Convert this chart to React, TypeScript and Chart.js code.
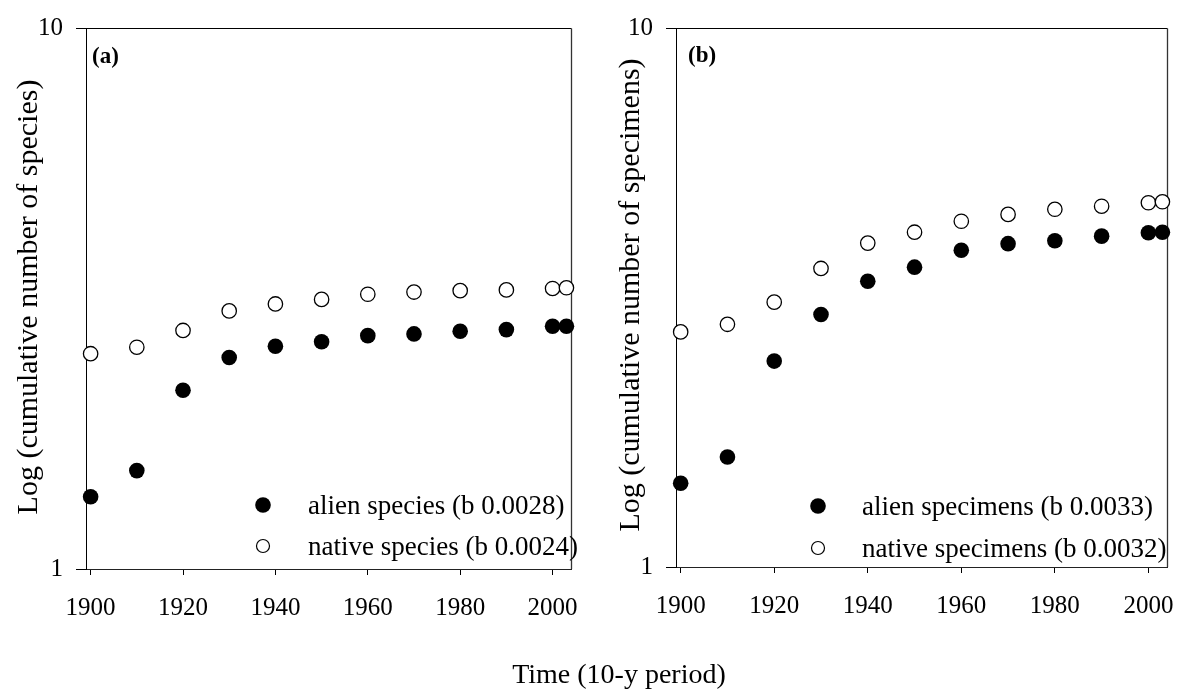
import React, { useEffect, useRef } from "react";
import { Chart, registerables } from "chart.js";

Chart.register(...registerables);

// ---- data ----
const YEARS = [1900, 1910, 1920, 1930, 1940, 1950, 1960, 1970, 1980, 1990, 2000, 2003];
const ALIEN_SPECIES = [1.36, 1.52, 2.14, 2.46, 2.58, 2.63, 2.7, 2.72, 2.75, 2.77, 2.81, 2.81];
const NATIVE_SPECIES = [2.5, 2.57, 2.76, 3.0, 3.09, 3.15, 3.22, 3.25, 3.27, 3.28, 3.3, 3.31];
const ALIEN_SPECIMENS = [1.43, 1.6, 2.41, 2.94, 3.39, 3.6, 3.87, 3.98, 4.03, 4.11, 4.17, 4.18];
const NATIVE_SPECIMENS = [2.73, 2.82, 3.1, 3.58, 3.99, 4.18, 4.38, 4.51, 4.61, 4.67, 4.74, 4.76];

const X_TICKS = [1900, 1920, 1940, 1960, 1980, 2000];
const Y_TICKS = [1, 10];
const X_MIN = 1899;
const X_MAX = 2004;
const Y_MIN = 1;
const Y_MAX = 10;

const PANEL_A_LABEL = "(a)";
const PANEL_B_LABEL = "(b)";
const Y_TITLE_A = "Log (cumulative number of species)";
const Y_TITLE_B = "Log (cumulative number of specimens)";
const LEGEND_A = ["alien species (b 0.0028)", "native species (b 0.0024)"];
const LEGEND_B = ["alien specimens (b 0.0033)", "native specimens (b 0.0032)"];
const X_TITLE = "Time (10-y period)";

const SERIF = "'Liberation Serif', 'Times New Roman', serif";

const decorPlugin = {
  id: "decor",
  beforeDatasetsDraw(chart: any) {
    const { ctx, chartArea: a } = chart;
    ctx.save();
    ctx.strokeStyle = "#000";
    ctx.lineWidth = 1;
    ctx.beginPath();
    ctx.moveTo(Math.round(a.left), Math.round(a.top) + 0.5);
    ctx.lineTo(Math.round(a.right) + 0.5, Math.round(a.top) + 0.5);
    ctx.stroke();
    ctx.strokeStyle = "#333";
    ctx.lineWidth = 1.3;
    ctx.beginPath();
    ctx.moveTo(Math.round(a.right) + 0.5, Math.round(a.top) + 0.5);
    ctx.lineTo(Math.round(a.right) + 0.5, Math.round(a.bottom));
    ctx.stroke();
    ctx.restore();
  },
  afterDraw(chart: any, _args: any, opts: any) {
    const { ctx } = chart;
    ctx.save();
    ctx.fillStyle = "#000";
    // panel label
    ctx.font = `bold 23px ${SERIF}`;
    ctx.textAlign = "left";
    ctx.textBaseline = "middle";
    ctx.fillText(opts.label, opts.labelX, opts.labelY);
    // y title
    ctx.save();
    ctx.translate(opts.titleX, opts.titleY);
    ctx.rotate(-Math.PI / 2);
    ctx.font = `30px ${SERIF}`;
    ctx.textAlign = "center";
    ctx.textBaseline = "middle";
    ctx.fillText(opts.yTitle, 0, 0);
    ctx.restore();
    // legend
    const L = opts.legend;
    ctx.font = `27px ${SERIF}`;
    ctx.textAlign = "left";
    ctx.textBaseline = "alphabetic";
    L.items.forEach((txt: string, i: number) => {
      const my = L.ys[i];
      ctx.beginPath();
      if (i === 0) {
        ctx.arc(L.mx, my, 7.8, 0, Math.PI * 2);
        ctx.fillStyle = "#000";
        ctx.fill();
      } else {
        ctx.arc(L.mx, my, 6.5, 0, Math.PI * 2);
        ctx.fillStyle = "#fff";
        ctx.fill();
        ctx.strokeStyle = "#000";
        ctx.lineWidth = 1.2;
        ctx.stroke();
      }
      ctx.fillStyle = "#000";
      ctx.fillText(txt, L.tx, my + 8.5);
    });
    ctx.restore();
  },
};

type PanelProps = {
  left: number;
  alien: number[];
  native: number[];
  legendItems: string[];
  padding: { left: number; right: number; top: number; bottom: number };
  yAxisWidth: number;
  xAxisHeight: number;
  decor: any;
};

function Panel(p: PanelProps) {
  const ref = useRef<HTMLCanvasElement>(null);
  useEffect(() => {
    const tickFont = { family: SERIF, size: 25 };
    const chart = new Chart(ref.current as HTMLCanvasElement, {
      type: "scatter",
      data: {
        datasets: [
          {
            label: p.legendItems[0],
            data: YEARS.map((x, i) => ({ x, y: p.alien[i] })),
            pointRadius: 7.8,
            pointBackgroundColor: "#000",
            pointBorderColor: "#000",
            pointBorderWidth: 0,
            showLine: false,
            clip: false as any,
          },
          {
            label: p.legendItems[1],
            data: YEARS.map((x, i) => ({ x, y: p.native[i] })),
            pointRadius: 7.2,
            pointBackgroundColor: "#fff",
            pointBorderColor: "#000",
            pointBorderWidth: 1.3,
            showLine: false,
            clip: false as any,
          },
        ],
      },
      options: {
        responsive: false,
        animation: false,
        events: [],
        layout: { padding: p.padding },
        plugins: {
          legend: { display: false },
          tooltip: { enabled: false },
          decor: p.decor,
        } as any,
        scales: {
          x: {
            type: "linear",
            min: X_MIN,
            max: X_MAX,
            afterBuildTicks: (s: any) => {
              s.ticks = X_TICKS.map((v) => ({ value: v }));
            },
            afterFit: (s: any) => {
              s.height = p.xAxisHeight;
            },
            ticks: {
              color: "#000",
              font: tickFont,
              padding: 18,
              maxRotation: 0,
              autoSkip: false,
              callback: (v: any) => String(v),
            },
            grid: { drawOnChartArea: false, drawTicks: true, tickLength: 6, color: "#000", lineWidth: 1 },
            border: { display: true, color: "#222", width: 1 },
          },
          y: {
            type: "logarithmic",
            min: Y_MIN,
            max: Y_MAX,
            afterBuildTicks: (s: any) => {
              s.ticks = Y_TICKS.map((v) => ({ value: v }));
            },
            afterFit: (s: any) => {
              s.width = p.yAxisWidth;
            },
            ticks: {
              color: "#000",
              font: tickFont,
              padding: 13,
              autoSkip: false,
              callback: (v: any) => String(v),
            },
            grid: { drawOnChartArea: false, drawTicks: true, tickLength: 10, color: "#000", lineWidth: 1 },
            border: { display: true, color: "#000", width: 1 },
          },
        },
      },
      plugins: [decorPlugin as any],
    });
    return () => chart.destroy();
  }, []);
  return (
    <canvas
      ref={ref}
      width={596}
      height={690}
      style={{ position: "absolute", left: p.left, top: 0, width: 596, height: 690, display: "block" }}
    />
  );
}

export default function App() {
  return (
    <div
      style={{
        position: "absolute",
        left: 0,
        top: 0,
        width: 1192,
        height: 690,
        background: "#fff",
        overflow: "hidden",
      }}
    >
      <Panel
        left={0}
        alien={ALIEN_SPECIES}
        native={NATIVE_SPECIES}
        legendItems={LEGEND_A}
        padding={{ left: 0, right: 11, top: 25, bottom: 0 }}
        yAxisWidth={86}
        xAxisHeight={121}
        decor={{
          label: PANEL_A_LABEL,
          labelX: 92,
          labelY: 57,
          yTitle: Y_TITLE_A,
          titleX: 29,
          titleY: 297,
          legend: { items: LEGEND_A, mx: 263, ys: [505, 546], tx: 308 },
        }}
      />
      <Panel
        left={596}
        alien={ALIEN_SPECIMENS}
        native={NATIVE_SPECIMENS}
        legendItems={LEGEND_B}
        padding={{ left: 0, right: 16, top: 23, bottom: 0 }}
        yAxisWidth={80}
        xAxisHeight={123}
        decor={{
          label: PANEL_B_LABEL,
          labelX: 92,
          labelY: 56,
          yTitle: Y_TITLE_B,
          titleX: 35,
          titleY: 295,
          legend: { items: LEGEND_B, mx: 222, ys: [506, 548], tx: 266 },
        }}
      />
      <div
        style={{
          position: "absolute",
          left: 0,
          top: 660,
          width: 1238,
          textAlign: "center",
          fontFamily: SERIF,
          fontSize: 28,
          lineHeight: "28px",
          color: "#000",
          whiteSpace: "nowrap",
        }}
      >
        {X_TITLE}
      </div>
    </div>
  );
}
